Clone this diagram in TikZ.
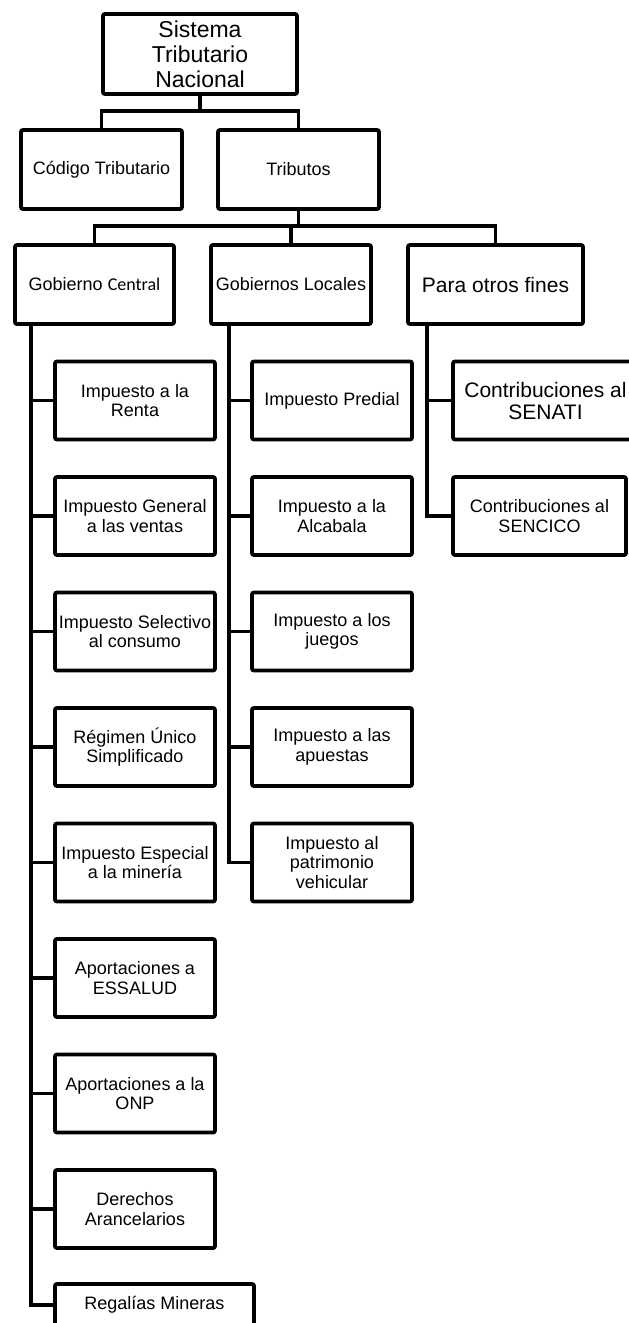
\documentclass[tikz,border=0pt]{standalone}
\usepackage{fontspec}
\setmainfont{Liberation Sans}
\newfontfamily\calfont{Carlito}
\begin{document}
\begin{tikzpicture}[x=1pt, y=-1pt, line width=3.8pt]
    \tikzset{
      bx/.style={draw, rounded corners=2pt, inner sep=1pt, outer sep=0pt,
                 align=center, minimum width=160pt, minimum height=78pt,
                 font=\fontsize{18}{19.5}\selectfont},
      big/.style={font=\fontsize{21}{22}\selectfont},
      top/.style={font=\fontsize{23}{25}\selectfont},
    }
    \useasboundingbox (0,0) rectangle (629,1323);
    \clip (0,0) rectangle (629,1323);

    \node[bx, top, minimum width=194pt, minimum height=80pt] (sis) at (200,54) {Sistema\\Tributario\\Nacional};
    \node[bx, minimum width=161pt, minimum height=79pt] (cod) at (101.5,169.5) {Código Tributario};
    \node[bx, minimum width=161pt, minimum height=79pt] (trib) at (298.5,169.5) {Tributos};

    \node[bx, minimum width=159pt, minimum height=79pt] (gc) at (94.5,284.5) {Gobierno {\calfont Central}};
    \node[bx, minimum width=160pt, minimum height=79pt] (gl) at (291,284.5) {Gobiernos Locales};
    \node[bx, big, minimum width=175pt, minimum height=79pt] (pof) at (495.5,284.5) {Para otros fines};

    \draw (sis.south) -- ++(0,17) -| (cod.north);
    \draw (sis.south) -- ++(0,17) -| (trib.north);
    \draw (trib.south) -- ++(0,17) -| (gc.north);
    \draw (trib.south) -- ++(0,17) -| (gl.north);
    \draw (trib.south) -- ++(0,17) -| (pof.north);

    \node[bx] (ren) at (135,400.5) {Impuesto a la\\Renta};
    \node[bx] (igv) at (135,516) {Impuesto General\\a las ventas};
    \node[bx] (isc) at (135,631.5) {Impuesto Selectivo\\al consumo};
    \node[bx] (rus) at (135,747) {Régimen Único\\Simplificado};
    \node[bx] (iem) at (135,862.5) {Impuesto Especial\\a la minería};
    \node[bx] (ess) at (135,978) {Aportaciones a\\ESSALUD};
    \node[bx] (onp) at (135,1093.5) {Aportaciones a la\\ONP};
    \node[bx] (der) at (135,1209) {Derechos\\Arancelarios};
    \node[bx, minimum width=199pt, minimum height=42pt] (reg) at (154.5,1305) {Regalías Mineras};

    \node[bx] (pre) at (332,400.5) {Impuesto Predial};
    \node[bx] (alc) at (332,516) {Impuesto a la\\Alcabala};
    \node[bx] (jue) at (332,631.5) {Impuesto a los\\juegos};
    \node[bx] (apu) at (332,747) {Impuesto a las\\apuestas};
    \node[bx] (veh) at (332,862.5) {Impuesto al\\patrimonio\\vehicular};

    \node[bx, big, minimum width=185pt] (sen) at (545.5,400.5) {Contribuciones al\\SENATI};
    \node[bx, minimum width=173pt] (sco) at (539.5,516) {Contribuciones al\\SENCICO};

    \foreach \n in {ren,igv,isc,rus,iem,ess,onp,der,reg}
      \draw ([xshift=16pt]gc.south west) |- (\n.west);
    \foreach \n in {pre,alc,jue,apu,veh}
      \draw ([xshift=18pt]gl.south west) |- (\n.west);
    \foreach \n in {sen,sco}
      \draw ([xshift=19pt]pof.south west) |- (\n.west);
  \end{tikzpicture}
\end{document}
